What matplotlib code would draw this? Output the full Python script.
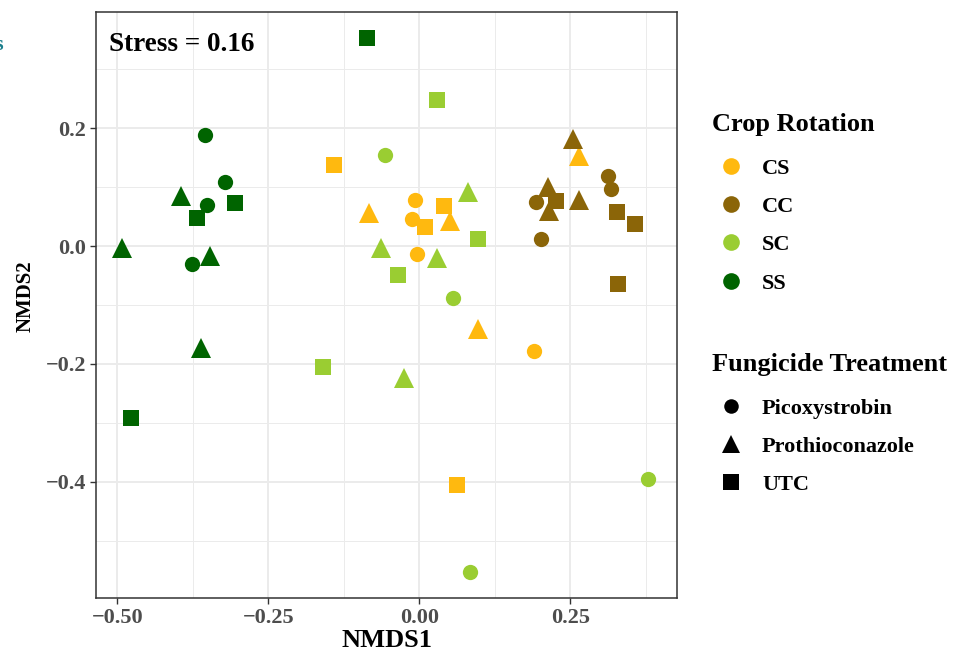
import matplotlib.pyplot as plt
from matplotlib.lines import Line2D

plt.rcParams['font.family'] = ['Liberation Serif', 'DejaVu Serif']
plt.rcParams['font.weight'] = 'bold'

rotations = ['CS', 'CC', 'SC', 'SS']
rotation_colors = ['#FFB90F', '#8B6508', '#9ACD32', '#006400']
treatments = ['Picoxystrobin', 'Prothioconazole', 'UTC']
treatment_markers = ['o', '^', 's']
marker_sizes = {'o': 11, '^': 14, 's': 11.5}

# NMDS scores per rotation, per treatment: (x list, y list)
cs_pico = ([-0.007, -0.012, -0.003, 0.190], [0.078, 0.046, -0.014, -0.178])
cs_prot = ([-0.083, 0.051, 0.098, 0.265], [0.056, 0.042, -0.141, 0.153])
cs_utc = ([-0.141, 0.041, 0.010, 0.063], [0.137, 0.068, 0.032, -0.405])

cc_pico = ([0.313, 0.318, 0.194, 0.202], [0.119, 0.097, 0.074, 0.012])
cc_prot = ([0.255, 0.214, 0.215, 0.265], [0.181, 0.100, 0.059, 0.078])
cc_utc = ([0.227, 0.328, 0.358, 0.329], [0.076, 0.058, 0.037, -0.064])

sc_pico = ([-0.056, 0.056, 0.379, 0.084], [0.154, -0.088, -0.395, -0.553])
sc_prot = ([0.081, -0.063, 0.030, -0.026], [0.092, -0.003, -0.020, -0.224])
sc_utc = ([0.030, 0.098, -0.035, -0.159], [0.247, 0.012, -0.049, -0.205])

ss_pico = ([-0.354, -0.321, -0.351, -0.376], [0.188, 0.108, 0.069, -0.031])
ss_prot = ([-0.394, -0.492, -0.346, -0.361], [0.085, -0.003, -0.017, -0.173])
ss_utc = ([-0.086, -0.305, -0.368, -0.477], [0.353, 0.073, 0.047, -0.292])

groups = {
    'CS': [cs_pico, cs_prot, cs_utc],
    'CC': [cc_pico, cc_prot, cc_utc],
    'SC': [sc_pico, sc_prot, sc_utc],
    'SS': [ss_pico, ss_prot, ss_utc],
}

x_ticks = [-0.50, -0.25, 0.00, 0.25]
x_tick_labels = ['\u22120.50', '\u22120.25', '0.00', '0.25']
y_ticks = [-0.4, -0.2, 0.0, 0.2]
y_tick_labels = ['\u22120.4', '\u22120.2', '0.0', '0.2']


def Main():
    fig = plt.figure(figsize=(9.66, 6.58), dpi=100)
    ax = fig.add_axes([0.0994, 0.0912, 0.6016, 0.8906])

    for rot, color in zip(rotations, rotation_colors):
        for (xs, ys), marker in zip(groups[rot], treatment_markers):
            ax.plot(xs, ys, linestyle='none', marker=marker, color=color,
                    markersize=marker_sizes[marker], markeredgewidth=0, zorder=3)

    ax.set_xlim(-0.535, 0.427)
    ax.set_ylim(-0.597, 0.397)

    ax.set_xticks(x_ticks)
    ax.set_xticklabels(x_tick_labels)
    ax.set_yticks(y_ticks)
    ax.set_yticklabels(y_tick_labels)
    ax.set_xticks([-0.375, -0.125, 0.125, 0.375], minor=True)
    ax.set_yticks([-0.5, -0.3, -0.1, 0.1, 0.3], minor=True)
    ax.grid(which='major', color='#EBEBEB', linewidth=1.4, zorder=0)
    ax.grid(which='minor', color='#EBEBEB', linewidth=0.7, zorder=0)
    ax.set_axisbelow(True)
    ax.tick_params(which='major', length=4, width=1, color='#333333',
                   labelsize=16, labelcolor='#4D4D4D', pad=3)
    ax.tick_params(which='minor', length=0)
    for spine in ax.spines.values():
        spine.set_color('#333333')
        spine.set_linewidth(1.1)

    ax.set_xlabel('NMDS1', fontsize=19, fontweight='bold', labelpad=1)
    fig.text(0.027, 1 - 296 / 658, 'NMDS2', fontsize=15, fontweight='bold',
             rotation=90, ha='center', va='center')
    ax.text(0.022, 0.965, 'Stress = 0.16', transform=ax.transAxes,
            fontsize=19.5, fontweight='bold', ha='left', va='top')

    rot_handles = [Line2D([], [], linestyle='none', marker='o', color=c,
                          markersize=12, markeredgewidth=0)
                   for c in rotation_colors]
    trt_handles = [Line2D([], [], linestyle='none', marker=m, color='black',
                          markersize=marker_sizes[m] * 0.95, markeredgewidth=0)
                   for m in treatment_markers]

    common = dict(frameon=False, borderpad=0, borderaxespad=0, handlelength=1.7,
                  handletextpad=0.55, labelspacing=0.8,
                  prop={'size': 16, 'weight': 'bold'}, loc='upper left')
    fig.legend(rot_handles, rotations, bbox_to_anchor=(0.737, 1 - 158 / 658), **common)
    fig.legend(trt_handles, treatments, bbox_to_anchor=(0.737, 1 - 398 / 658), **common)
    fig.text(0.737, 1 - 124 / 658, 'Crop Rotation', fontsize=19,
             fontweight='bold', ha='left', va='center')
    fig.text(0.737, 1 - 364 / 658, 'Fungicide Treatment', fontsize=19,
             fontweight='bold', ha='left', va='center')

    # clipped fragment at the left edge
    fig.text(-0.006, 0.932, 's', color='#1B7F8C', fontsize=16,
             fontweight='bold', ha='left', va='center')

    fig.savefig('out.png', dpi=100)
    plt.close(fig)


if __name__ == "__main__":
    Main()
